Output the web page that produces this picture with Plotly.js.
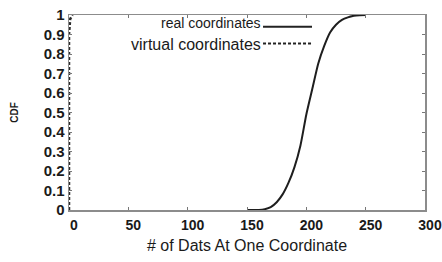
<!DOCTYPE html>
<html>
<head>
<meta charset="utf-8">
<script src="https://cdn.plot.ly/plotly-3.0.1.min.js"></script>
<style>html,body{margin:0;padding:0;background:#fff;}#chart{width:442px;height:262px;}</style>
</head>
<body>
<div id="chart"></div>
<script>
// ---- data ----
const realX = [150, 155, 160, 165, 170, 175, 180, 185, 190, 195, 200, 205, 210, 215, 220, 225, 230, 235, 240, 245, 250];
const realY = [0, 0, 0, 0.004, 0.015, 0.04, 0.08, 0.14, 0.22, 0.33, 0.49, 0.62, 0.75, 0.84, 0.91, 0.95, 0.975, 0.988, 0.996, 0.999, 1];
const virtualX = [0, 0, 1, 3];
const virtualY = [0, 0.9, 0.98, 1];
const xTickVals = [0, 50, 100, 150, 200, 250, 300];
const yTickVals = [0, 0.1, 0.2, 0.3, 0.4, 0.5, 0.6, 0.7, 0.8, 0.9, 1];
const seriesNames = ['real coordinates', 'virtual coordinates'];
const xTitle = '# of Dats At One Coordinate';
const yTitle = 'CDF';

const FONT = 'Liberation Sans, Arial, sans-serif';
const traces = [
  {x: realX, y: realY, mode: 'lines', name: seriesNames[0],
   line: {color: '#1e1e1e', width: 2, shape: 'spline', smoothing: 0.6}, showlegend: false},
  {x: virtualX, y: virtualY, mode: 'lines', name: seriesNames[1],
   line: {color: '#2a2a2a', width: 2.5, dash: '3px,2px'}, showlegend: false}
];

const axisCommon = {
  showgrid: false, zeroline: false, showline: true, linecolor: '#8c8c8c', linewidth: 1.5,
  mirror: 'ticks', ticks: 'inside', ticklen: 3, tickwidth: 1, tickcolor: '#777',
  tickfont: {family: FONT, size: 15, color: '#1a1a1a', weight: 'bold'}
};

const layout = {
  width: 442, height: 262,
  margin: {l: 69, r: 17, t: 15, b: 52},
  paper_bgcolor: '#fff', plot_bgcolor: '#fff',
  showlegend: false,
  xaxis: Object.assign({}, axisCommon, {
    range: [0, 300], tickvals: xTickVals, ticktext: xTickVals.map(String),
    tickfont: {family: FONT, size: 14, color: '#1a1a1a', weight: 'bold'},
    ticklabelshift: 5, ticklabelstandoff: 2, ticklabeloverflow: 'allow',
    title: {text: xTitle, font: {family: FONT, size: 16, color: '#1a1a1a'}, standoff: 7}
  }),
  yaxis: Object.assign({}, axisCommon, {
    range: [0, 1], tickvals: yTickVals, ticktext: yTickVals.map(String),
    ticklabelstandoff: 0,
    title: {text: '<b>' + yTitle + '</b>', font: {family: FONT, size: 10, color: '#1a1a1a'}, standoff: 23}
  }),
  shapes: [
    {type: 'line', xref: 'paper', yref: 'paper', x0: 0.545, x1: 0.6826, y0: 0.94, y1: 0.94,
     line: {color: '#222', width: 2}},
    {type: 'line', xref: 'paper', yref: 'paper', x0: 0.545, x1: 0.6826, y0: 0.854, y1: 0.854,
     line: {color: '#222', width: 2, dash: '3px,2px'}}
  ],
  annotations: [
    {xref: 'paper', yref: 'paper', x: 0.545, y: 0.96, xanchor: 'right', yanchor: 'middle',
     text: seriesNames[0], showarrow: false, font: {family: FONT, size: 14, color: '#1a1a1a'}},
    {xref: 'paper', yref: 'paper', x: 0.545, y: 0.851, xanchor: 'right', yanchor: 'middle',
     text: seriesNames[1], showarrow: false, font: {family: FONT, size: 16, color: '#1a1a1a'}}
  ]
};

Plotly.newPlot('chart', traces, layout, {displayModeBar: false, staticPlot: true});
</script>
</body>
</html>
